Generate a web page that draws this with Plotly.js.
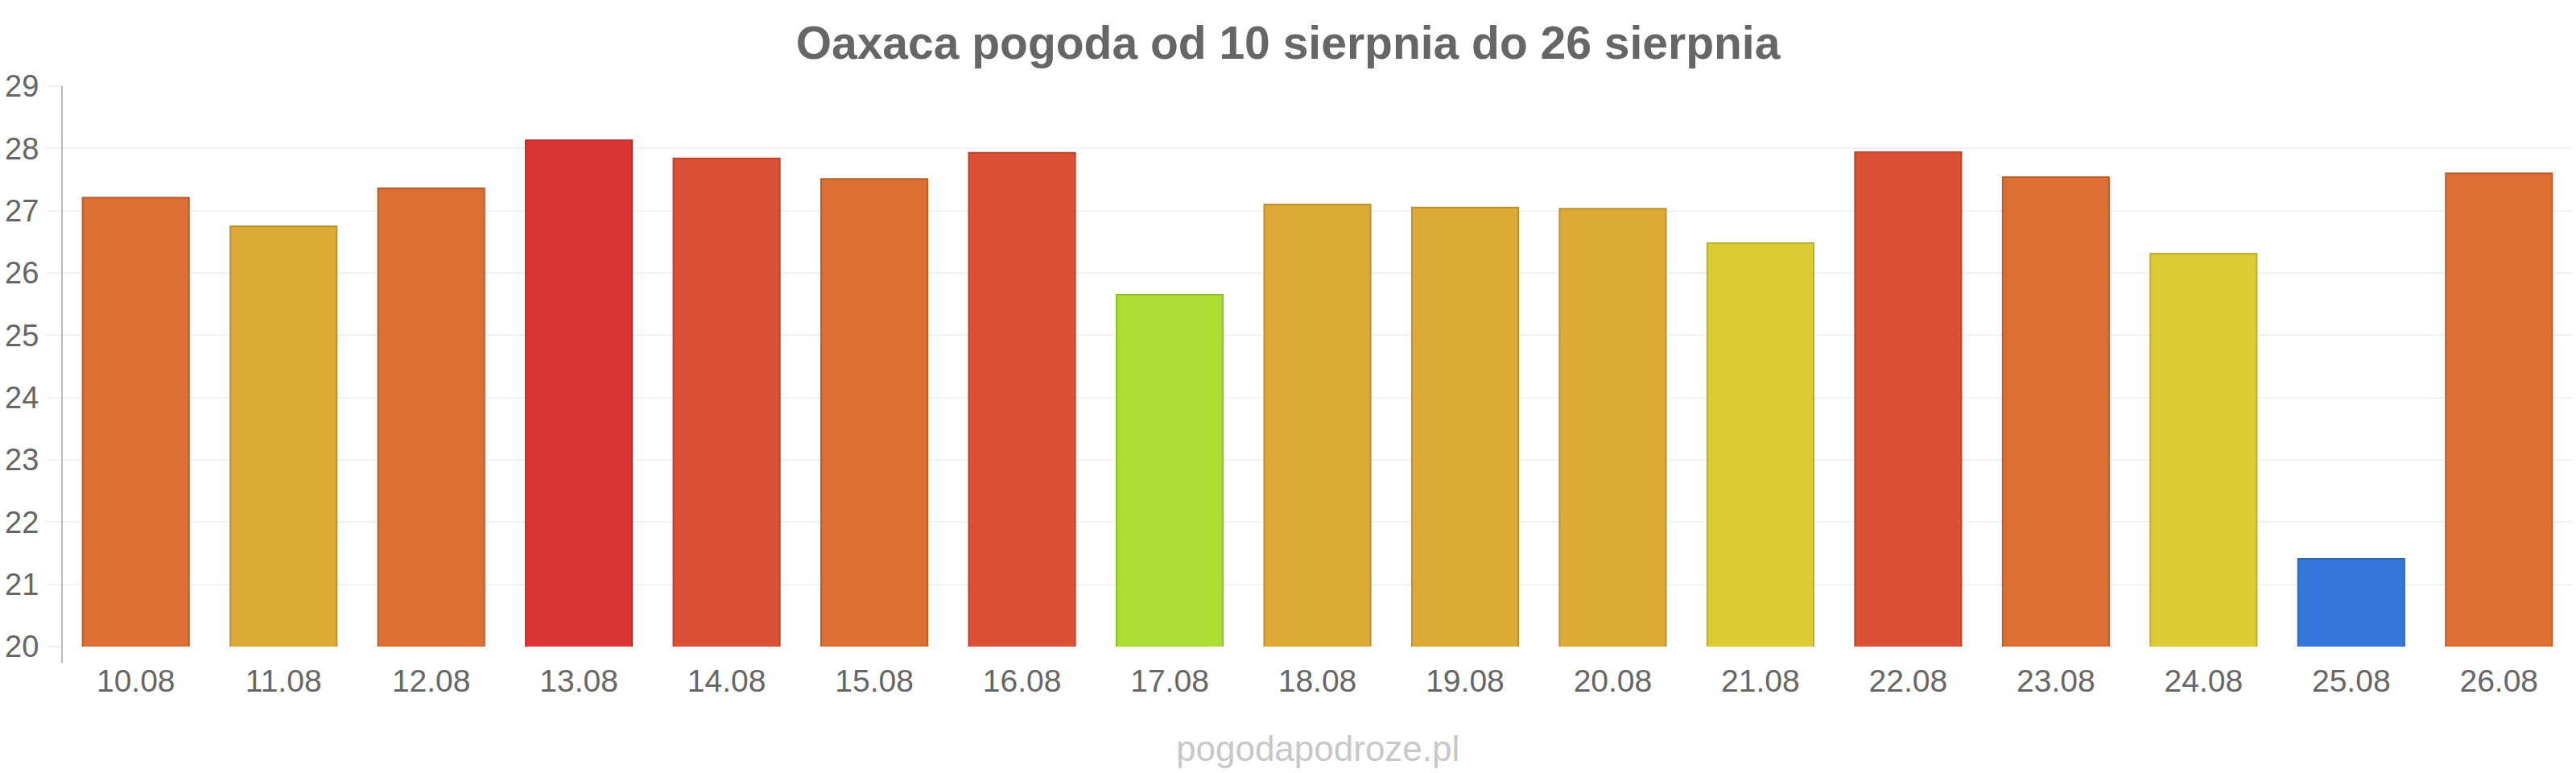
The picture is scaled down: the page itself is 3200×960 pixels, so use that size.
<!DOCTYPE html>
<html>
<head>
<meta charset="utf-8">
<script src="https://cdn.plot.ly/plotly-3.0.1.min.js"></script>
<style>
  body { margin: 0; background: #fff; }
  #wykres { width: 3200px; height: 960px; }
</style>
</head>
<body>
<div id="wykres"></div>
<script>

// dni i temperatury
let dni = ['10.08', '11.08', '12.08', '13.08', '14.08', '15.08', '16.08', '17.08', '18.08',
           '19.08', '20.08', '21.08', '22.08', '23.08', '24.08', '25.08', '26.08']
let temperatury = [27.21, 26.75, 27.36, 28.13, 27.84, 27.51, 27.93, 25.65, 27.10,
                   27.05, 27.03, 26.48, 27.94, 27.54, 26.31, 21.41, 27.60]
let kolory = ['#dc6f34', '#dcaa35', '#dc6f34', '#db3535', '#dc5035', '#dc6f34', '#dc5035', '#addc33', '#dcaa35',
              '#dcaa35', '#dcaa35', '#dccb35', '#dc5035', '#dc6f34', '#dccb35', '#3577db', '#dc6f34']
let yTicks = [20, 21, 22, 23, 24, 25, 26, 27, 28, 29]

function ciemniej(hex) {
    let r = parseInt(hex.substr(1, 2), 16)
    let g = parseInt(hex.substr(3, 2), 16)
    let b = parseInt(hex.substr(5, 2), 16)
    let f = 0.85
    return 'rgb(' + Math.round(r * f) + ',' + Math.round(g * f) + ',' + Math.round(b * f) + ')'
}

function pogodaGraph() {

    let TESTER = document.getElementById('wykres');

    var slupki = {
        x: dni,
        y: temperatury,
        type: 'bar',
        marker: {
            color: kolory,
            line: { color: kolory.map(ciemniej), width: 2 }
        },
        hoverinfo: 'x+y'
    };

    var layout = {
        width: 3200,
        height: 960,
        paper_bgcolor: '#fff',
        plot_bgcolor: '#fff',
        margin: { l: 77, r: 4, t: 107, b: 157 },
        bargap: 0.28,
        showlegend: false,
        font: { family: 'Liberation Sans, Arial, sans-serif', color: '#666' },

        title: {
            text: 'Oaxaca pogoda od 10 sierpnia do 26 sierpnia',
            font: { size: 57, weight: 'bold', color: '#666' },
            x: 0.5,
            xref: 'container',
            xanchor: 'center',
            y: 0.945,
            yref: 'container',
            yanchor: 'middle'
        },

        xaxis: {
            type: 'category',
            showgrid: false,
            showline: false,
            zeroline: false,
            ticks: '',
            tickfont: { size: 39, color: '#666' },
            ticklabelstandoff: 16
        },

        yaxis: {
            range: [20, 29],
            tickvals: yTicks,
            ticks: 'outside',
            ticklen: 18,
            tickwidth: 2,
            tickcolor: '#f2f2f2',
            showgrid: true,
            gridcolor: '#f2f2f2',
            gridwidth: 2,
            zeroline: false,
            showline: false,
            tickfont: { size: 38, color: '#666' },
            ticklabelstandoff: 2
        },

        shapes: [{
            type: 'line',
            xref: 'paper',
            yref: 'paper',
            x0: 0, x1: 0,
            y0: -0.029, y1: 1,
            line: { color: '#bbb', width: 2 }
        }],

        annotations: [{
            text: 'pogodapodroze.pl',
            xref: 'paper',
            yref: 'paper',
            x: 0.5,
            y: -0.182,
            xanchor: 'center',
            yanchor: 'middle',
            showarrow: false,
            font: { size: 44, color: '#c8c8c8' }
        }]
    };

    Plotly.newPlot(TESTER, [slupki], layout, { displayModeBar: false, staticPlot: true });
}

pogodaGraph()
</script>
</body>
</html>
